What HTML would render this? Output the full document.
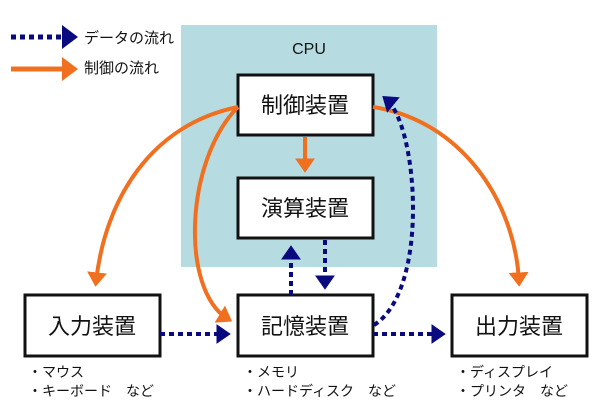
<!DOCTYPE html>
<html><head><meta charset="utf-8"><style>
body{margin:0;background:#fff;width:600px;height:410px;overflow:hidden;font-family:"Liberation Sans","Noto Sans CJK JP",sans-serif}
</style></head><body>
<svg width="600" height="410" xmlns="http://www.w3.org/2000/svg" font-family="Liberation Sans, Noto Sans CJK JP, sans-serif">
<defs>
<marker id="ob" markerWidth="5" markerHeight="5" refX="2.4" refY="2.5" orient="auto" markerUnits="strokeWidth"><path d="M0,0 L3.6,2.5 L0,5 z" fill="#f07020"/></marker>
<marker id="nb" markerWidth="5" markerHeight="5" refX="2.4" refY="2.5" orient="auto" markerUnits="strokeWidth"><path d="M0,0 L3.6,2.5 L0,5 z" fill="#0a0a80"/></marker>
</defs>
<rect x="181" y="25" width="256" height="242" fill="#b6dce1"/>
<text x="309" y="54" font-size="16" text-anchor="middle" fill="#111">CPU</text>
<!-- legend -->
<line x1="11" y1="37" x2="62" y2="37" stroke="#0a0a80" stroke-width="5" stroke-dasharray="5,4"/>
<path d="M62,25 L78,37 L62,49 z" fill="#0a0a80"/>
<text x="84" y="43" font-size="15" fill="#111">データの流れ</text>
<line x1="11" y1="69" x2="64" y2="69" stroke="#f07020" stroke-width="5"/>
<path d="M62,57 L78,69 L62,81 z" fill="#f07020"/>
<text x="84" y="73" font-size="15" fill="#111">制御の流れ</text>
<!-- boxes -->
<g fill="#fff" stroke="#111" stroke-width="3">
<rect x="238" y="75" width="135" height="60"/>
<rect x="238" y="178" width="135" height="60"/>
<rect x="238" y="295" width="135" height="61"/>
<rect x="25" y="295" width="135" height="61"/>
<rect x="452" y="295" width="135" height="61"/>
</g>
<g font-size="22" text-anchor="middle" fill="#111">
<text x="305" y="113">制御装置</text>
<text x="305" y="216">演算装置</text>
<text x="305" y="334">記憶装置</text>
<text x="92" y="334">入力装置</text>
<text x="519" y="334">出力装置</text>
</g>
<g font-size="14" fill="#111">
<text x="243" y="377">・メモリ</text>
<text x="243" y="396">・ハードディスク　など</text>
<text x="28" y="377">・マウス</text>
<text x="28" y="396">・キーボード　など</text>
<text x="456" y="377">・ディスプレイ</text>
<text x="456" y="396">・プリンタ　など</text>
</g>
<!-- orange -->
<g fill="none" stroke="#f07020" stroke-width="4">
<path d="M238,107 C150,125 105,200 96,282" marker-end="url(#ob)"/>
<path d="M238,107 C185,160 180,290 228,319" marker-end="url(#ob)"/>
<path d="M305,137 L305,168" marker-end="url(#ob)"/>
<path d="M373,107 C460,120 515,200 519,282" marker-end="url(#ob)"/>
</g>
<!-- dotted -->
<g fill="none" stroke="#0a0a80" stroke-width="4" stroke-dasharray="5,4">
<path d="M160,334 L226,334" marker-end="url(#nb)"/>
<path d="M373,334 L441,334" marker-end="url(#nb)"/>
<path d="M291,295 L291,250" marker-end="url(#nb)"/>
<path d="M325,240 L325,285" marker-end="url(#nb)"/>
<path d="M374,325 C430,290 418,125 386,99" marker-end="url(#nb)"/>
</g>
</svg>
</body></html>
